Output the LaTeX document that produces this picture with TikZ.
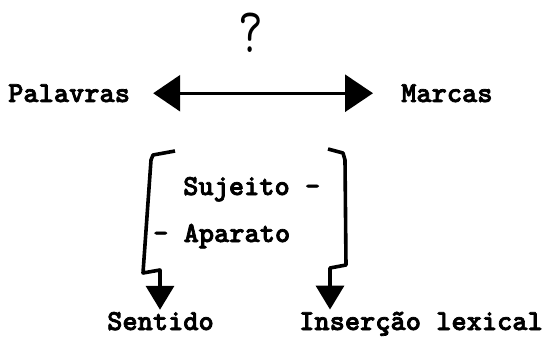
\documentclass[tikz,border=0pt]{standalone}
\usepackage{fontspec}
\newfontfamily\twbold{lmmonolt10-bold.otf}[FakeBold=2.5]
\usetikzlibrary{arrows.meta}
\begin{document}
\begin{tikzpicture}[x=1pt,y=-1pt,
  lbl/.style={font=\twbold\fontsize{29}{32}\selectfont, inner sep=0pt, anchor=base west},
  qmark/.style={font=\ttfamily\fontsize{64}{64}\selectfont, inner sep=0pt, xscale=0.75, transform shape},
  dbl/.style={line width=3pt, {Triangle[length=27pt,width=36pt]}-{Triangle[length=28pt,width=37pt]}},
  brack/.style={line width=3.6pt, line join=round, -{Triangle[length=24pt,width=28pt]}}
]
\useasboundingbox (0,0) rectangle (547,337);
\node[qmark] (q) at (251,33) {?};
\node[lbl] (palavras) at (8,102) {Palavras};
\node[lbl] (marcas) at (401,102) {Marcas};
\node[lbl] (sujeito) at (183,195) {Sujeito -};
\node[lbl] (aparato) at (153,242) {- Aparato};
\node[lbl] (sentido) at (107,330) {Sentido};
\node[lbl] (insercao) at (299,330) {Inserção lexical};
\coordinate (ljog) at (160,270);
\coordinate (rjog) at (330,268);
\draw[dbl, shorten <=23pt, shorten >=28pt] (palavras.east) -- (marcas.west);
\draw[brack, shorten >=2pt] (175,151) -- (153,155) -- (151,160) -- (143,273) -- (ljog) -- (ljog |- sentido.north);
\draw[brack, shorten >=2pt] (328,149) -- (343,153) -- (345,160) -- (346,265) -- (rjog) -- (rjog |- insercao.north);
\end{tikzpicture}
\end{document}
